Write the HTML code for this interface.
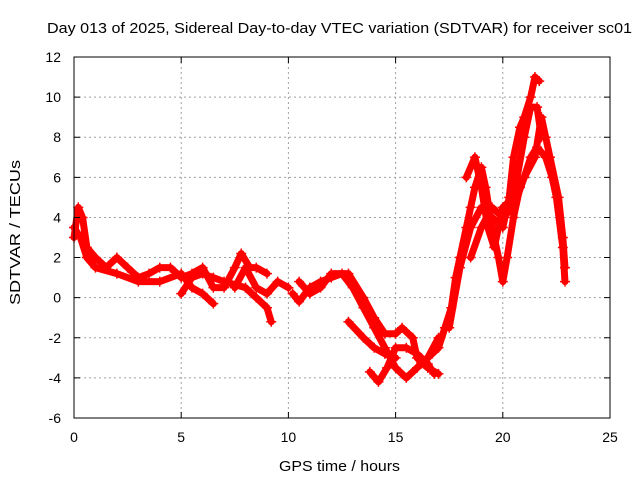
<!DOCTYPE html>
<html><head><meta charset="utf-8"><style>
body{margin:0;background:#fff}
svg{font-family:"Liberation Sans",sans-serif;font-size:14px}
</style></head><body>
<svg id="chart" width="640" height="480">
<rect width="640" height="480" fill="#fff"/>
<text x="47" y="33" textLength="585" lengthAdjust="spacingAndGlyphs" font-size="15">Day 013 of 2025, Sidereal Day-to-day VTEC variation (SDTVAR) for receiver sc01</text>
<text x="279" y="471" textLength="121" lengthAdjust="spacingAndGlyphs" font-size="15">GPS time / hours</text>
<text transform="translate(20,305) rotate(-90)" textLength="145" lengthAdjust="spacingAndGlyphs" font-size="15">SDTVAR / TECUs</text>
<g id="grid"></g><g id="series"></g><g id="axes"></g>
</svg>
<script>
const xTicks=[0,5,10,15,20,25];
const yTicks=[-6,-4,-2,0,2,4,6,8,10,12];
const track1X=[0,0.2,0.4,0.6,1,1.5,2,2.5,3,3.5,4,4.5,5,5.5,6,6.5,7,7.5,7.8,8.2,8.5,9];
const track1Y=[3,4.5,4,2.5,2,1.5,2,1.5,1,1.2,1.5,1.5,1,1.2,1.5,0.5,0.5,1.5,2.2,1.5,1.5,1.2];
const track2X=[0,0.3,0.6,1,2,3,4,5,5.5,6,6.5];
const track2Y=[3.5,3,2,1.5,1.2,0.8,0.8,1.2,0.5,0.2,-0.3];
const track3X=[5,5.5,6,6.5,7,8,8.5,9,9.2];
const track3Y=[0.2,1,1.2,1,0.8,0.5,0,-0.5,-1.2];
const track4X=[7.5,8,8.5,9,9.5,10];
const track4Y=[0.5,1.5,0.5,0.2,0.8,0.5];
const track5X=[10.2,10.5,11,11.5,12,12.5,13,13.5,14,14.5,15,15.5,16,16.5,17];
const track5Y=[0.2,-0.2,0.5,0.8,1,1.2,0.5,-0.5,-1.5,-2.5,-3.5,-4,-3.5,-3,-2];
const track6X=[10.5,11,11.5,12,12.8,13.5,14,14.5,15,15.3,15.8,16,16.5,17];
const track6Y=[0.8,0.2,0.5,1.2,1.2,0,-1,-1.8,-1.8,-1.5,-2,-3,-3.5,-3.8];
const track7X=[12.8,13.5,14,14.5,15];
const track7Y=[-1.2,-2,-2.5,-2.8,-3];
const track8X=[13.8,14.2,14.6,15,15.5,16,16.5,16.8];
const track8Y=[-3.7,-4.2,-3.5,-2.5,-2.5,-2.8,-3.3,-3.8];
const track9X=[16.5,17,17.3,17.6,17.8,18,18.3,18.5,18.7,19,19.2,19.5,19.8,20,20.2,20.5,20.8,21,21.3,21.6,22,22.3,22.5,22.8,22.9];
const track9Y=[-3,-2.5,-1.5,-0.5,1,2,3.5,4.5,5.5,6.5,5.5,3.5,2,0.8,2,4,5.5,6,7,7.5,7,6,5,2.5,0.8];
const track10X=[17.5,18,18.5,19,19.5,20,20.3,20.5,20.8,21,21.3,21.5,21.7];
const track10Y=[-1.5,1.5,3.5,4.5,4,3.5,5,7,8.5,9,10,11,10.8];
const track11X=[18.5,19,19.5,20,20.5,21,21.5,21.8,22,22.2,22.6,22.8,22.9];
const track11Y=[2,3.5,4.5,4,4.5,6,7,9,8,7,5,3,1.5];
const track12X=[18.3,18.7,19,19.3,19.6,20,20.5,21,21.3,21.6,21.8];
const track12Y=[6,7,5.5,3.5,2.5,4.5,5,8,9.5,9.5,8];
const tracks=[[track1X,track1Y],[track2X,track2Y],[track3X,track3Y],[track4X,track4Y],[track5X,track5Y],[track6X,track6Y],[track7X,track7Y],[track8X,track8Y],[track9X,track9Y],[track10X,track10Y],[track11X,track11Y],[track12X,track12Y]];
const L=74,R=610,T=57,B=418;
const sx=v=>L+(v-0)/(25-0)*(R-L);
const sy=v=>B-(v+6)/(12+6)*(B-T);
const NS="http://www.w3.org/2000/svg";
function mk(tag,attrs,parent){const e=document.createElementNS(NS,tag);for(const k in attrs)e.setAttribute(k,attrs[k]);parent.appendChild(e);return e;}
const grid=document.getElementById('grid'),axes=document.getElementById('axes'),series=document.getElementById('series');
xTicks.forEach(t=>{const x=sx(t);
 if(t>0&&t<25){const g=mk('line',{x1:x,x2:x,y1:T,y2:B,stroke:'#a0a0a0','stroke-dasharray':'2,3','stroke-width':1},grid);
 
 }
 const tk=mk('path',{d:`M${x},${B}v-6M${x},${T}v6`,stroke:'#000'},axes);
 
 
 const lb=mk('text',{x:x,y:B+24,'text-anchor':'middle'},axes);lb.textContent=t;
 
 
});
yTicks.forEach(t=>{const y=sy(t);
 if(t>-6&&t<12){const g=mk('line',{x1:L,x2:R,y1:y,y2:y,stroke:'#a0a0a0','stroke-dasharray':'2,3','stroke-width':1},grid);
 
 }
 const tk=mk('path',{d:`M${L},${y}h6M${R},${y}h-6`,stroke:'#000'},axes);
 
 
 const lb=mk('text',{x:L-13,y:y+5,'text-anchor':'end'},axes);lb.textContent=t;
 
 
});
const fr=mk('rect',{x:L,y:T,width:R-L,height:B-T,fill:'none',stroke:'#000'},axes);


tracks.forEach((tr,i)=>{
 const g=mk('g',{},series);
 
 
 const pts=tr[0].map((x,j)=>sx(x)+','+sy(tr[1][j])).join(' ');
 mk('polyline',{points:pts,fill:'none',stroke:'#f00','stroke-width':7,'stroke-linejoin':'round','stroke-linecap':'round'},g);
 let d='';tr[0].forEach((x,j)=>{const px=sx(x),py=sy(tr[1][j]);d+=`M${px-5},${py}h10M${px},${py-5}v10`;});
 mk('path',{d:d,stroke:'#f00','stroke-width':1.5},g);
});
</script>
</body></html>
